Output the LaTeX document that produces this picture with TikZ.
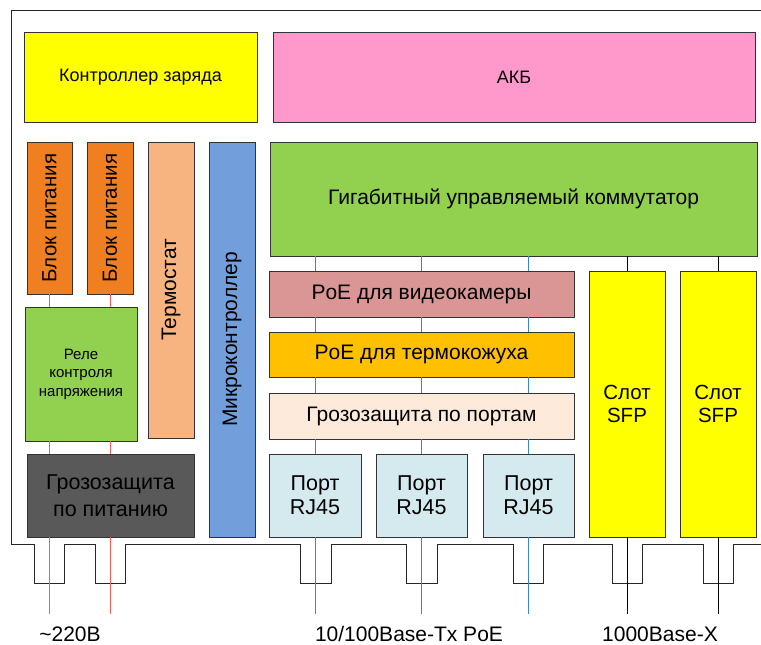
\documentclass[tikz,border=0pt]{standalone}
\usepackage{fontspec}
\setmainfont{Liberation Sans}
\definecolor{cyel}{HTML}{FFFF00}
\definecolor{cpink}{HTML}{FF99CC}
\definecolor{corange}{HTML}{F07F22}
\definecolor{cpeach}{HTML}{F8B480}
\definecolor{cblue}{HTML}{729FDB}
\definecolor{cgreen}{HTML}{92D050}
\definecolor{cdark}{HTML}{595959}
\definecolor{crose}{HTML}{D99694}
\definecolor{camber}{HTML}{FFC000}
\definecolor{ccream}{HTML}{FDEADA}
\definecolor{cport}{HTML}{D4EAEF}
\definecolor{cred}{HTML}{FF5A5A}
\definecolor{cbl}{HTML}{3A86CF}
\newcommand{\fs}[1]{\fontsize{#1}{#1}\selectfont}
\tikzset{
  box/.style={draw=black!80, line width=0.7pt, inner sep=0pt, outer sep=0pt, anchor=north west, align=center},
  frame/.style={draw=black!85, line width=0.9pt},
  rline/.style={draw=cred, line width=0.7pt},
  bline/.style={draw=cbl, line width=0.7pt},
  kline/.style={draw=black, line width=0.7pt},
  lbl/.style={inner sep=0pt, anchor=base, font=\fs{21}}
}
\begin{document}
\begin{tikzpicture}[x=1pt,y=-1pt]
\useasboundingbox (0,0) rectangle (761,645);
% outer frame
\draw[frame] (761,10) -- (11,10) -- (11,544) -- (34,544) -- (34,583) -- (64,583) -- (64,544)
  -- (95,544) -- (95,583) -- (125,583) -- (125,544)
  -- (300,544) -- (300,583) -- (331,583) -- (331,544)
  -- (406,544) -- (406,583) -- (437,583) -- (437,544)
  -- (513,544) -- (513,583) -- (543,583) -- (543,544)
  -- (612,544) -- (612,583) -- (642,583) -- (642,544)
  -- (703,544) -- (703,583) -- (733,583) -- (733,544) -- (761,544);
% boxes
\node[box, fill=cyel, minimum width=233, minimum height=90, font=\fs{18}] (charge) at (24,32) {Контроллер заряда};
\node[box, fill=cpink, minimum width=482, minimum height=90, font=\fs{18}] (akb) at (273,32) {АКБ};
\node[box, fill=corange, minimum width=45, minimum height=152] (bp1) at (27,142) {};
\node[rotate=90, font=\fs{20.5}] at (bp1.center) {Блок питания};
\node[box, fill=corange, minimum width=46, minimum height=152] (bp2) at (87,142) {};
\node[rotate=90, font=\fs{20.5}] at (bp2.center) {Блок питания};
\node[box, fill=cpeach, minimum width=46, minimum height=296] (term) at (148,142) {};
\node[rotate=90, font=\fs{21}] at (term.center) {Термостат};
\node[box, fill=cblue, minimum width=46, minimum height=395] (mcu) at (209,142) {};
\node[rotate=90, font=\fs{21}] at (mcu.center) {Микроконтроллер};
\node[box, fill=cgreen, minimum width=112, minimum height=134, font=\fontsize{15}{18.5}\selectfont] (rele) at (25,307) {Реле\\контроля\\напряжения};
\node[box, fill=cdark, minimum width=167, minimum height=83, font=\fontsize{21.5}{27}\selectfont, text=black] (grozp) at (27,454) {Грозозащита\\по питанию};
\node[box, fill=cgreen, minimum width=487, minimum height=114, font=\fs{21}] (giga) at (270,142) {Гигабитный управляемый коммутатор};
\node[box, fill=crose, minimum width=305, minimum height=46, font=\fs{21}] (poe1) at (269,271) {PoE для видеокамеры};
\node[box, fill=camber, minimum width=305, minimum height=45, font=\fs{21}] (poe2) at (269,332) {PoE для термокожуха};
\node[box, fill=ccream, minimum width=305, minimum height=46, font=\fs{21}] (gport) at (269,393) {Грозозащита по портам};
\node[box, fill=cport, minimum width=92, minimum height=83, font=\fontsize{21.5}{24}\selectfont] (port1) at (269,454) {Порт\\RJ45};
\node[box, fill=cport, minimum width=91, minimum height=83, font=\fontsize{21.5}{24}\selectfont] (port2) at (376,454) {Порт\\RJ45};
\node[box, fill=cport, minimum width=91, minimum height=83, font=\fontsize{21.5}{24}\selectfont] (port3) at (483,454) {Порт\\RJ45};
\node[box, fill=cyel, minimum width=76, minimum height=266, font=\fontsize{20.5}{23.5}\selectfont] (sfp1) at (589,271) {Слот\\SFP};
\node[box, fill=cyel, minimum width=76, minimum height=266, font=\fontsize{20.5}{23.5}\selectfont] (sfp2) at (680,271) {Слот\\SFP};
% bottom end coordinate
\coordinate (bot) at (0,614);
% red power lines
\foreach \b in {bp1,bp2}{
  \draw[rline] (\b.south) -- (\b.south |- rele.north);
  \draw[rline] (\b.south |- rele.south) -- (\b.south |- grozp.north);
  \draw[rline] (\b.south |- grozp.south) -- (\b.south |- bot);
}
% blue ethernet lines
\foreach \p in {port1,port2,port3}{
  \draw[bline] (\p.north |- giga.south) -- (\p.north |- poe1.north);
  \draw[bline] (\p.north |- poe1.south) -- (\p.north |- poe2.north);
  \draw[bline] (\p.north |- poe2.south) -- (\p.north |- gport.north);
  \draw[bline] (\p.north |- gport.south) -- (\p.north);
  \draw[bline] (\p.south) -- (\p.south |- bot);
}
% black SFP lines
\foreach \s in {sfp1,sfp2}{
  \draw[kline] (\s.north |- giga.south) -- (\s.north);
  \draw[kline] (\s.south) -- (\s.south |- bot);
}
% labels
\node[lbl] (l1) at (70,641) {\textasciitilde220В};
\node[lbl] (l2) at (409,641) {10/100Base-Tx PoE};
\node[lbl] (l3) at (660,641) {1000Base-X};
\end{tikzpicture}
\end{document}
